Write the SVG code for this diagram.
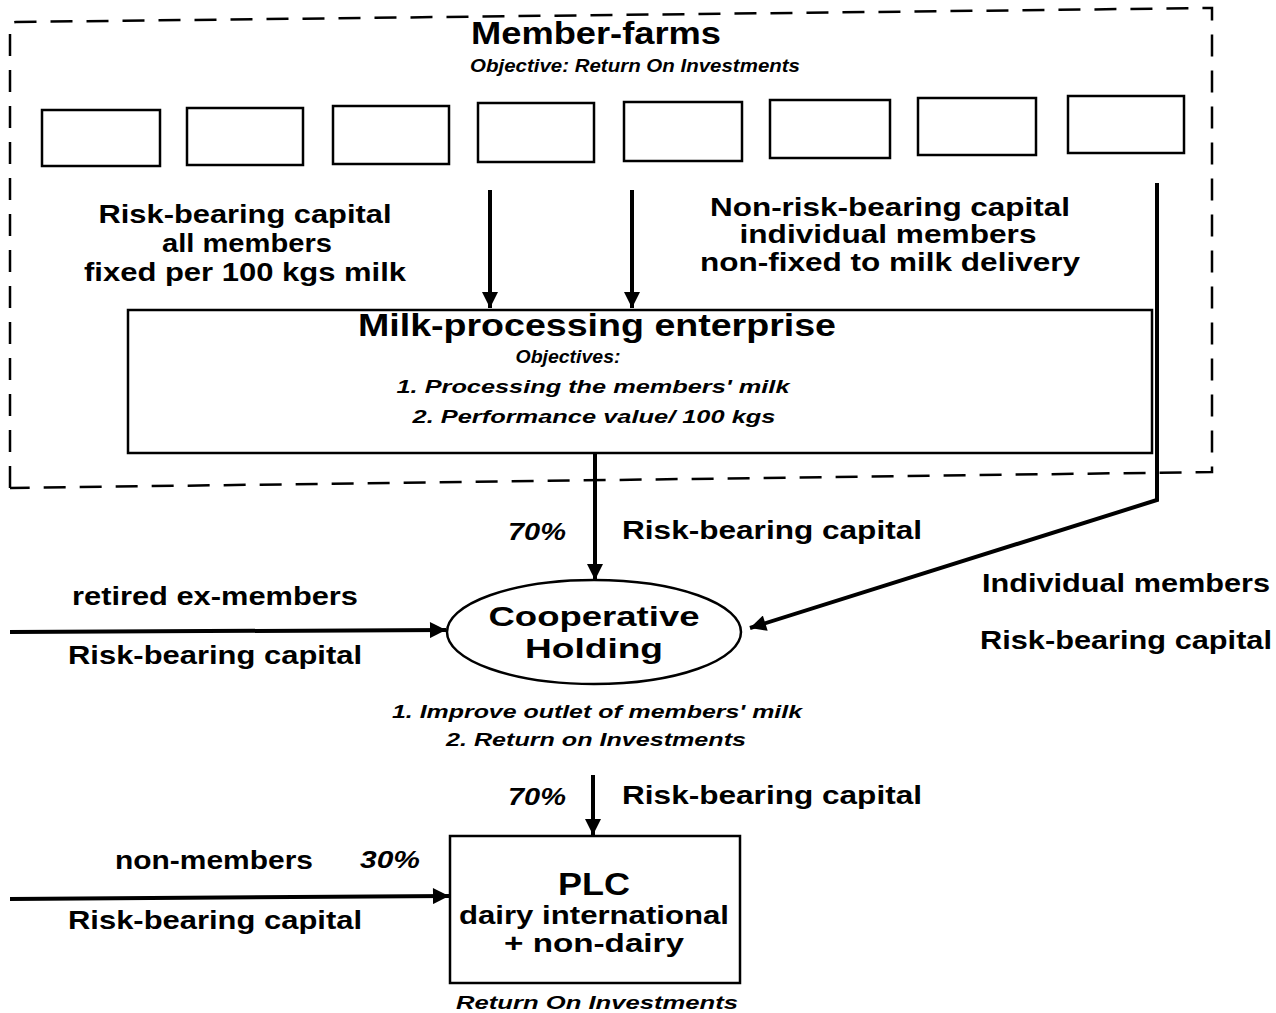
<svg xmlns="http://www.w3.org/2000/svg" width="1276" height="1013" viewBox="0 0 1276 1013">
<style>
text{font-family:"Liberation Sans",Arial,sans-serif;font-weight:bold;fill:#000;text-anchor:middle}
.big{font-size:32px}
.mid{font-size:28px}
.lab{font-size:26px}
.it{font-size:18px;font-style:italic}
.pc{font-size:23px;font-style:italic}
.box{fill:#fff;stroke:#000;stroke-width:2.5}
.line{fill:none;stroke:#000;stroke-width:4}
.dash{fill:none;stroke:#000;stroke-width:2.5;stroke-dasharray:22 14}
</style>
<defs>
<marker id="ahb" viewBox="0 0 10 10" refX="10" refY="5" markerWidth="20" markerHeight="16" markerUnits="userSpaceOnUse" orient="auto">
<path d="M0,0 L10,5 L0,10 Z" fill="#000"/>
</marker>
</defs>
<rect width="1276" height="1013" fill="#fff"/>

<g id="member-farms">
<path class="dash" d="M10,488 L10,28 Q10,22 16,22 L1212,8 L1212,472 L10,488"/>
<text class="big" x="596" y="44" textLength="250" lengthAdjust="spacingAndGlyphs">Member-farms</text>
<text class="it" x="635" y="72" textLength="330" lengthAdjust="spacingAndGlyphs">Objective: Return On Investments</text>
<rect class="box" x="42" y="110" width="118" height="56"/>
<rect class="box" x="187" y="108" width="116" height="57"/>
<rect class="box" x="333" y="106" width="116" height="58"/>
<rect class="box" x="478" y="103" width="116" height="59"/>
<rect class="box" x="624" y="102" width="118" height="59"/>
<rect class="box" x="770" y="100" width="120" height="58"/>
<rect class="box" x="918" y="98" width="118" height="57"/>
<rect class="box" x="1068" y="96" width="116" height="57"/>
<text class="lab" x="245" y="223" textLength="293" lengthAdjust="spacingAndGlyphs">Risk-bearing capital</text>
<text class="lab" x="247" y="252" textLength="170" lengthAdjust="spacingAndGlyphs">all members</text>
<text class="lab" x="245" y="281" textLength="322" lengthAdjust="spacingAndGlyphs">fixed per 100 kgs milk</text>
<text class="lab" x="890" y="216" textLength="360" lengthAdjust="spacingAndGlyphs">Non-risk-bearing capital</text>
<text class="lab" x="888" y="243" textLength="297" lengthAdjust="spacingAndGlyphs">individual members</text>
<text class="lab" x="890" y="271" textLength="380" lengthAdjust="spacingAndGlyphs">non-fixed to milk delivery</text>
</g>

<g id="milk-processing">
<rect class="box" x="128" y="310" width="1024" height="143"/>
<text class="big" x="597" y="336" textLength="478" lengthAdjust="spacingAndGlyphs">Milk-processing enterprise</text>
<text class="it" x="568" y="363" textLength="105" lengthAdjust="spacingAndGlyphs">Objectives:</text>
<text class="it" x="593" y="393" textLength="393" lengthAdjust="spacingAndGlyphs">1. Processing the members' milk</text>
<text class="it" x="594" y="423" textLength="363" lengthAdjust="spacingAndGlyphs">2. Performance value/ 100 kgs</text>
</g>

<g id="cooperative-holding">
<ellipse cx="594" cy="632" rx="147" ry="52" fill="#fff" stroke="#000" stroke-width="2.5"/>
<text class="mid" x="594" y="626" textLength="211" lengthAdjust="spacingAndGlyphs">Cooperative</text>
<text class="mid" x="594" y="658" textLength="138" lengthAdjust="spacingAndGlyphs">Holding</text>
<text class="it" x="597" y="718" textLength="410" lengthAdjust="spacingAndGlyphs">1. Improve outlet of members' milk</text>
<text class="it" x="596" y="746" textLength="300" lengthAdjust="spacingAndGlyphs">2. Return on Investments</text>
</g>

<g id="plc">
<rect class="box" x="450" y="836" width="290" height="147" stroke-width="3.5"/>
<text class="big" x="594" y="895" textLength="72" lengthAdjust="spacingAndGlyphs">PLC</text>
<text class="lab" x="594" y="924" textLength="270" lengthAdjust="spacingAndGlyphs">dairy international</text>
<text class="lab" x="594" y="952" textLength="180" lengthAdjust="spacingAndGlyphs">+ non-dairy</text>
<text class="it" x="597" y="1009" textLength="282" lengthAdjust="spacingAndGlyphs">Return On Investments</text>
</g>

<g id="connectors">
<line class="line" x1="490" y1="190" x2="490" y2="308" marker-end="url(#ahb)"/>
<line class="line" x1="632" y1="190" x2="632" y2="308" marker-end="url(#ahb)"/>
<line class="line" x1="595" y1="453" x2="595" y2="580" marker-end="url(#ahb)"/>
<polyline class="line" points="1157,183 1157,500 750,628" marker-end="url(#ahb)" stroke-width="3"/>
<line class="line" x1="10" y1="632" x2="446" y2="630" marker-end="url(#ahb)" stroke-width="3"/>
<line class="line" x1="593" y1="775" x2="593" y2="835" marker-end="url(#ahb)"/>
<line class="line" x1="10" y1="899" x2="449" y2="896" marker-end="url(#ahb)"/>
<text class="pc" x="537" y="540" textLength="58" lengthAdjust="spacingAndGlyphs">70%</text>
<text class="lab" x="772" y="539" textLength="300" lengthAdjust="spacingAndGlyphs">Risk-bearing capital</text>
<text class="lab" x="215" y="605" textLength="286" lengthAdjust="spacingAndGlyphs">retired ex-members</text>
<text class="lab" x="215" y="664" textLength="294" lengthAdjust="spacingAndGlyphs">Risk-bearing capital</text>
<text class="lab" x="1126" y="592" textLength="288" lengthAdjust="spacingAndGlyphs">Individual members</text>
<text class="lab" x="1126" y="649" textLength="292" lengthAdjust="spacingAndGlyphs">Risk-bearing capital</text>
<text class="pc" x="537" y="805" textLength="58" lengthAdjust="spacingAndGlyphs">70%</text>
<text class="lab" x="772" y="804" textLength="300" lengthAdjust="spacingAndGlyphs">Risk-bearing capital</text>
<text class="lab" x="214" y="869" textLength="198" lengthAdjust="spacingAndGlyphs">non-members</text>
<text class="pc" x="390" y="868" textLength="60" lengthAdjust="spacingAndGlyphs">30%</text>
<text class="lab" x="215" y="929" textLength="294" lengthAdjust="spacingAndGlyphs">Risk-bearing capital</text>
</g>
</svg>
